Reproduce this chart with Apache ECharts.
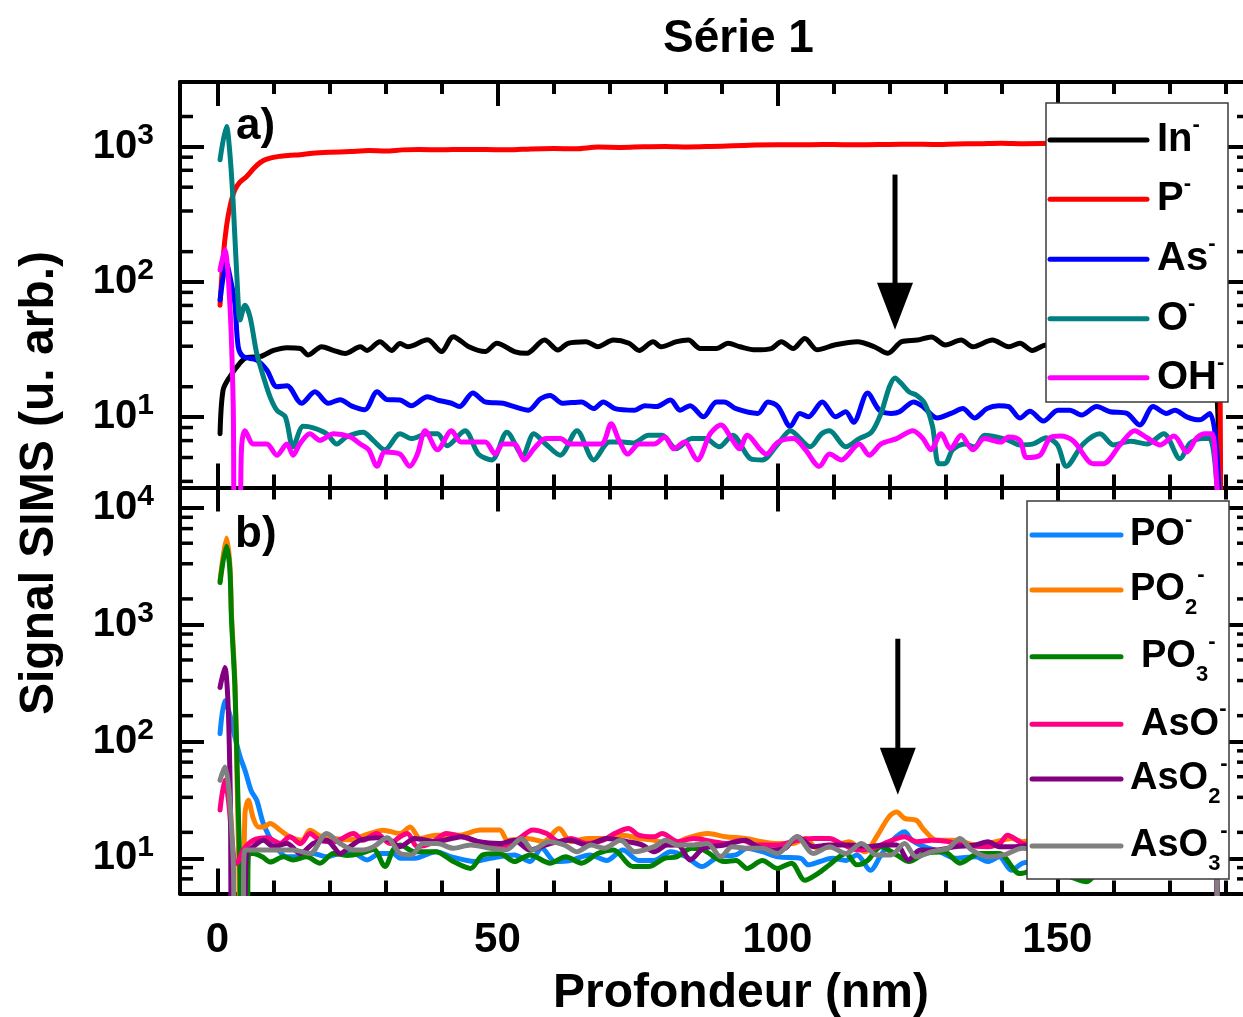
<!DOCTYPE html>
<html>
<head>
<meta charset="utf-8">
<title>Série 1</title>
<script src="https://cdn.jsdelivr.net/npm/echarts@6/dist/echarts.min.js"></script>
<style>
  html, body { margin: 0; padding: 0; background: #fff; }
  #chart { width: 1243px; height: 1017px; }
</style>
</head>
<body>
<div id="chart"></div>
<script>
// ---------- Depth axis ----------
const depthRange = [-6.7, 184.4];
const depthMajorTicks = [0, 50, 100, 150];
const depthMinorTicks = [10, 20, 30, 40, 60, 70, 80, 90, 110, 120, 130, 140, 160, 170, 180];

// ---------- Signal axes (log) ----------
const rangeA = [3, 3000];
const rangeB = [5, 15000];
const minorTicksA = [3.33, 5, 6.67, 8.33, 16.7, 33.3, 50, 66.7, 83.3, 166.7, 333.3, 500, 666.7, 833.3, 1666.7];
const minorTicksB = [6.67, 8.33, 16.7, 33.3, 50, 66.7, 83.3, 166.7, 333.3, 500, 666.7, 833.3,
                     1666.7, 3333.3, 5000, 6666.7, 8333.3];

// ---------- Panel a) profiles: [depth (nm), signal] ----------
const sigIn = [[0.45,7.5],[1.0,15.8],[2.2,19.8],[4,25],[5.2,27.5],[7.6,27.9],[10,31],[12.4,32.5],[14.8,32],
  [16.2,28.7],[18.6,33],[20.7,31],[22.8,29.4],[25.5,33],[26.7,31],[29,36],[31.1,31],[32.6,34.8],[34,33],
  [37.5,37.1],[40,30.4],[42.1,39.2],[44.9,33],[47.8,30.4],[49.9,35],[53,30.4],[55.2,29.5],[58.4,37],
  [60.8,31.2],[62.6,35],[65.8,36],[67.9,33],[70.7,37],[73.5,35],[75.3,31],[77.8,36],[79.2,33],[82,36],
  [84.1,37],[86.2,32],[89.1,32],[91.2,35],[93.3,33],[96.1,31.3],[98.9,32],[100.7,36],[102.8,32],[104.9,38],
  [107.1,31.3],[110.2,34],[114.3,36],[117.3,33],[119.7,29.5],[122.2,36],[125,37],[127.5,39],[130,34],
  [132.8,37],[134.9,33],[138.4,37],[141.3,33],[143.3,35],[145.5,31],[148,34],[151,32],[154,35],[157,33],
  [160,36],[163,32],[166,35],[169,33],[172,35],[175,32],[177.5,30],[178.6,12],[179.2,1]];

const sigP = [[0.45,67],[1.0,150],[1.6,256],[2.3,370],[3.1,478],[4,545],[5.2,600],[6.5,690],[7.6,760],
  [8.8,807],[11,845],[13,860],[14.7,868],[17,890],[20,905],[23.7,918],[27,932],[30,925],[33,944],[36,950],
  [40,945],[44,952],[48,950],[52,944],[56,960],[60,965],[64,962],[68,990],[72,985],[76,995],[80,1000],
  [84,992],[88,1000],[92,1012],[96,1025],[100,1030],[104,1028],[108,1035],[112,1030],[116,1032],[120,1036],
  [124,1040],[128,1035],[132,1045],[136,1050],[140,1059],[144,1050],[150,1055],[160,1060],[170,1055],
  [177.5,1050],[178.6,500],[179.2,1]];

const sigAs = [[0.45,73],[1.6,137],[2.4,100],[3.1,69],[3.7,33],[4.6,27.9],[7,26.3],[8.8,22.2],[10.6,16.7],
  [12.4,17],[15,12.6],[17.4,15.3],[19.8,12.6],[21.9,13.4],[24,12],[26.3,11.3],[28.5,15.3],[30.3,13.4],
  [32.6,13.3],[34.6,12.1],[37.5,14.1],[39.3,13.3],[41.8,12.6],[43.2,11.9],[45.6,15],[47.8,12.9],[51,12.6],
  [53,11.9],[55.5,11.2],[57.7,13.6],[59.4,14.4],[61.6,12.6],[65,12.9],[67.2,11.5],[68.9,12.9],[71,11.5],
  [74.5,11.2],[76.3,12.1],[78.4,11.9],[80.9,13.3],[82.6,11.2],[84.4,12.1],[86.8,10],[89.1,12.9],[90.5,12.9],
  [92.6,11.5],[96.5,10.6],[98.3,12.9],[100.1,11.9],[102.3,8.5],[104,10.6],[105.5,10],[108,12.9],[110.4,10],
  [112.2,10.9],[113.6,9.1],[116.1,15],[118.2,11.2],[120.3,10.6],[121.8,10.9],[124.3,12.9],[126,11.9],
  [128.5,9.8],[131,10.6],[133.1,11.5],[135.2,9.8],[137.4,11.5],[139.5,12.1],[141.3,11.9],[143.3,9.8],
  [145.1,11],[147.5,9.3],[150.1,11.2],[152.2,11.2],[154.3,10.3],[157,11.9],[159.4,10.9],[162.4,10.6],
  [164.7,8.7],[167.1,11.9],[169.5,10.6],[171,11.2],[173.1,10],[175.4,9.5],[177.2,10.6],[178.4,6],[179.2,1]];

const sigO = [[0.45,797],[1.6,1406],[2.2,900],[2.8,381],[3.7,69],[4,52],[4.9,67],[5.8,55],[7,29.5],
  [8.2,19.8],[9.4,14],[10.6,11.2],[12.1,10],[13.5,6],[15.3,8.5],[17.1,8.3],[19.5,7.5],[21.3,6.3],[23,7.1],
  [26,7.7],[27.8,6.7],[29.9,5.7],[32.6,7.5],[34.6,6.9],[37.5,7.5],[39.3,7.5],[41,6.1],[44.2,7.9],[46.6,5.3],
  [49,4.8],[51.7,7.7],[54.5,5.2],[56.5,7.5],[58.6,6.3],[61.2,5.2],[64.2,7.9],[67.2,4.8],[70,6.5],[72.3,6.5],
  [74.2,6.4],[77,7.3],[79.4,7.3],[81.9,5.8],[84.7,6.9],[87.1,6.9],[89.6,6],[92,7.3],[95.2,4.9],[97.3,4.8],
  [100.1,6.3],[102.3,7.9],[105.8,6],[107.9,7.5],[109.3,7.9],[112.2,6],[114.6,6.9],[116.8,7.7],[118.5,10.6],
  [120,16.7],[121,19.4],[122.1,17.7],[123.5,15.3],[124.9,14.4],[126.3,12.6],[127.7,8.5],[128.8,4.5],
  [129.9,4.5],[131.3,5.7],[133.4,6.3],[135.2,6],[137,7.3],[139.1,7.1],[141.3,6.7],[143.3,6.2],[145.7,6.3],
  [148,7],[150,6.2],[151.6,4.3],[154.6,6.3],[157.6,7.5],[160,6.2],[163,6.6],[166,6.3],[169,7.5],[171.9,4.9],
  [173.7,6.4],[176,6.9],[177.2,6.9],[178.4,3.5],[179,1]];

const sigOH = [[0.45,122],[1.3,172],[2.2,69],[2.8,12.6],[3.1,1.5],[3.9,1.5],[4.3,6],[4.9,7.9],[6.4,6.3],
  [8.8,6.3],[10.6,5.2],[12.4,6.3],[13.5,5.2],[14.7,6.3],[16.5,7.5],[18.3,6.7],[20.7,7.5],[23.7,7.1],
  [25.5,6.3],[27,5.7],[28.5,4.3],[29.9,5.5],[32.6,5.3],[34.3,4.3],[35.7,5.3],[37.1,7.9],[39.3,5.7],
  [41.8,7.9],[43.5,6.5],[47.8,6.5],[49.6,5.3],[51,6.3],[53,6.3],[54.8,4.8],[56.5,5.8],[58.6,6.9],[61.2,6.9],
  [63,6.3],[68.5,6.3],[70.3,8.9],[71.7,6.7],[73.3,5.3],[75.3,6.3],[78,6.3],[79.9,7.1],[81.5,5.8],[83.4,6.5],
  [85.7,4.8],[88,7.5],[89.9,8.7],[92,6.7],[93.2,5.8],[94.6,7.3],[97,5.7],[98,5.3],[100.1,6.5],[102.9,6.9],
  [105,5.7],[107.5,4.3],[109.3,5.3],[111.4,4.8],[114.6,6.3],[116.4,5.2],[118.5,6.3],[121.3,6.9],[124.2,7.9],
  [126,6.9],[127.4,5.7],[129.2,7.5],[130.9,5.8],[132.8,7.3],[134.9,5.7],[137,6.9],[139.9,6.5],[141.3,7.1],
  [143.3,6.7],[144.5,5],[146.9,5.2],[148.7,7],[150.5,7.2],[152.9,6.6],[156.4,4.5],[158.2,4.5],[161.2,6.2],
  [163.8,7.9],[166,7],[168.4,6.2],[170.8,7.2],[173.1,5.5],[174.9,7],[176.4,7.5],[177.6,7.5],[178.4,3.5],[179,1]];

// ---------- Panel b) profiles ----------
const sigPO = [[0.45,117],[1.3,224],[2.2,170],[3,115],[4,75],[5,55],[6,38],[7,31.5],[8.2,19.8],[10,13.4],
  [12.4,10.3],[14.8,10.3],[17.1,11],[19.5,10.3],[21.9,11],[24.3,11],[26.7,9.7],[29,11],[31.4,11],[32.6,10],
  [35.2,10],[39,11.4],[41.8,10.3],[45.9,9.4],[48.7,10],[53,10.7],[55.8,9.4],[57.9,12.2],[60.3,9.4],[63,9.6],
  [66.5,10.7],[69.5,9.6],[72.4,11.8],[75.2,9.6],[78,9.6],[80.9,11.4],[83.7,10.3],[86.5,8.5],[89.4,10.3],
  [92.6,10.7],[94.6,12.2],[97.3,11.4],[100.1,10.3],[104.2,10],[105.5,8.8],[107.6,9.4],[109.8,10],[112.2,9.6],
  [114.2,10.7],[116.6,7.9],[118.5,10.7],[120.3,13.9],[122.7,16.9],[124,14.3],[126.2,12.6],[129,11.4],
  [131.9,10],[135.4,10.3],[137.6,9.4],[139.6,10.3],[141.8,7.9],[143.8,9.1],[147,9.5],[151,10],[155,9.2],
  [159,10.4],[163,9.8],[167,10.5],[171,9.6],[175,10.2],[177.8,9.8],[178.6,4],[179.2,1]];

const sigPO2 = [[0.45,2371],[1.6,5546],[2.2,3290],[2.5,1230],[3.1,333],[3.5,46],[3.8,9],[4.1,2],[4.5,2],
  [4.9,24.2],[5.5,31.4],[6.4,22],[7.3,18.6],[8.2,18.6],[9.4,19.9],[11.2,17.4],[12.9,15.3],[15.1,14.3],
  [16.5,17.4],[18.3,15.6],[20.7,14.8],[23.7,14.4],[26.7,16],[29.6,17.4],[32.6,16.3],[34.4,18.6],[36.2,14.8],
  [39,15.8],[43.3,15.8],[46.9,17.5],[50.4,17.5],[51.8,14.3],[55.4,14.8],[58.2,13.9],[61,18],[63.1,13.9],
  [66,14.8],[69.5,14.8],[72.4,15.8],[75.2,14.8],[78,14.3],[80.9,13],[83.7,14.8],[87.6,16.3],[90.8,15.3],
  [94.3,14.8],[97.2,13.9],[100,13.4],[102.8,13.4],[105,14.8],[107.1,12.2],[109.9,12.6],[112.8,13.9],
  [115.6,11.4],[117.7,15.3],[119.9,22.6],[121.3,25],[122.7,22],[124.8,21.2],[126.2,17.5],[128.4,14.3],
  [131.9,14.3],[135.4,13],[139,13.9],[141.8,14.8],[143.8,13.9],[147,14.5],[151,13.5],[155,14.8],[159,13.6],
  [163,14.2],[167,13.3],[171,14.6],[175,13.8],[177.8,13.5],[178.6,4],[179.2,1]];

const sigPO3 = [[0.45,2300],[1.6,4710],[2.2,3000],[2.5,1100],[3.1,300],[3.6,40],[4.0,8],[4.3,2],[5.2,2],
  [5.6,11],[6.4,11],[8,10.3],[9.4,9.3],[11.8,10.3],[13.5,9.7],[15.9,10.3],[18.3,9.1],[20.7,11],[23.1,10.6],
  [25.5,11],[27.9,11.9],[29.9,8.5],[31.4,11.9],[32.6,13],[35.2,11.4],[37.3,11.4],[39,11.4],[42.1,9.4],
  [45.2,8.2],[47.4,10.7],[50.4,11],[53,9.4],[55.8,10.7],[59.4,9.1],[62.2,10.3],[65,9.1],[67.9,11],[70.7,11.8],
  [74.2,8.5],[77,8.5],[79.8,10],[82,10.3],[84.7,12.2],[86.8,11.8],[90.5,9.4],[92.6,9.6],[94.6,8.2],[97.3,9.6],
  [100,8.2],[102.5,9.1],[104.9,6.5],[107.2,7.4],[109.3,8.8],[112.2,11],[114.2,8.8],[116.1,9.6],[118.5,12.6],
  [121.3,10.7],[123.5,9.4],[126.3,11],[129.8,11.4],[132.6,9.1],[136,11],[139.6,11],[143.3,7.4],[146,7.9],
  [149,7.5],[152,7],[155.2,6.3],[158,8.5],[162,9.5],[166,8.8],[170,10],[174,9.2],[177.8,9.6],[178.6,4],[179.2,1]];

const sigAsO = [[0.45,25.9],[1.3,46.6],[2.0,30],[2.6,14],[3.2,9],[3.8,9.5],[4.6,11.8],[6.4,14.3],[8.8,15],
  [11.2,13.4],[12.9,15.3],[14.8,13.4],[16.5,16.3],[18.3,14.3],[20.7,13.8],[24.3,16.3],[26,14.3],[28.4,16.3],
  [30.8,13.4],[32.6,15.3],[33.9,16.3],[35.7,12.6],[38.1,13.4],[40.9,16.3],[43.7,15.3],[46.6,13.9],[51.2,12.6],
  [53.9,14.8],[56.3,17.5],[58.8,16.3],[61,13.9],[63.1,14.8],[66,13.4],[68.9,14.3],[70.9,16.3],[73.4,18],
  [75.2,15.8],[78,15.3],[79.4,16.3],[82.2,13.9],[85,14.8],[88.5,13.9],[90.8,13.4],[93.6,14.3],[96.4,13],
  [100,13],[103.5,14.3],[106.4,14.8],[109.3,14.8],[111.4,13.4],[114.2,11.8],[117,12.2],[119.9,13.9],
  [122.7,15.3],[124.8,13.9],[127.6,14.3],[130.5,13.9],[133.3,13],[137.5,12.6],[139.7,13.4],[141.1,15.8],
  [143.8,13.4],[147,13],[151,14],[155,13.2],[159,14.5],[163,13.6],[167,14.1],[171,13],[175,13.8],
  [177.8,13.5],[178.6,4],[179.2,1]];

const sigAsO2 = [[0.45,291],[1.3,431],[1.9,200],[2.3,30],[2.6,2],[4.6,2],[5.2,11],[6.4,12.6],[8.2,14.3],
  [10,12.6],[12.4,13.4],[14.8,11],[17.1,13.4],[19.5,14.3],[20.7,12.6],[21.9,11],[23.7,12.6],[25.5,14.3],
  [28.4,15],[30.8,14.3],[32.6,12.6],[35.2,14.8],[39,13.9],[41.8,14.8],[43.7,15.3],[46.6,13.9],[50.4,13.4],
  [53,14.3],[55.8,11.8],[59.4,13.4],[63,14.3],[66,13],[69.5,14.8],[73.2,13.9],[75.9,13],[78,11.4],[80.3,13],
  [82.2,13],[84.4,9.7],[86.8,12.2],[90.5,13],[94.3,14.3],[96.4,12.6],[99.2,11.8],[101.4,12.2],[103.5,15.3],
  [106.4,12.6],[109.3,13],[112.7,13],[116.4,12.6],[119.1,13],[121.3,13],[123.4,9.7],[125.5,11.8],[128.3,11.8],
  [131.9,12.6],[135.4,13],[137.6,13.9],[139.6,12.6],[142.5,12.6],[146,13],[150,12.4],[154,13.2],[158,12.6],
  [162,13.4],[166,12.2],[170,13],[174,12.6],[177.8,12.8],[178.6,4],[179.2,1]];

const sigAsO3 = [[0.45,46.6],[1.3,60.5],[2.0,40],[2.8,10],[3.2,2],[4.4,2],[4.9,11.8],[6.4,11.8],[8.8,11.8],
  [11.8,11.8],[13.5,11.8],[16.5,11],[19.5,16.3],[21.9,13.4],[24.3,11.8],[26,11.8],[27.9,12.6],[30.3,15],
  [32.6,11],[34.6,10.7],[36.7,13.4],[39.3,13.4],[42.1,12.2],[45.2,13],[48.7,12.2],[51.5,11.8],[54.3,14.8],
  [56.3,11.8],[59.2,13.9],[62,13],[64.2,11.4],[66.7,13],[69,12.2],[72,14.3],[74.5,11.4],[78,12.6],[80,14.3],
  [82.2,13],[84.7,13],[87.5,13.4],[89.9,10.3],[91.9,12.6],[94.6,12.2],[97.3,12.2],[100,11],[103.5,15.3],
  [106.4,11],[109.3,12.6],[112.2,11],[115,13.4],[117.7,10.7],[120.3,10.7],[122.7,13.4],[124.8,10.3],
  [127.6,11.4],[130.5,12.2],[132.6,14.8],[134.7,11.8],[137.6,10.3],[140.4,10.7],[143.8,12.2],[147,11.5],
  [151,12.4],[155,11.2],[159,12.6],[163,11.4],[167,12.3],[171,11.6],[175,12.2],[177.8,11.8],[178.6,4],[179.2,1]];

// ---------- Arrow annotations: [depth, start signal, tip signal] ----------
const arrowA = [121, 620, 44];
const arrowB = [121.5, 760, 35];

// ---------- Series description ----------
// label parts: [main text, subscript, superscript]
const seriesA = [
  { label: ['In', '', '-'],  color: '#000000', data: sigIn },
  { label: ['P', '', '-'],   color: '#ff0000', data: sigP },
  { label: ['As', '', '-'],  color: '#0000ff', data: sigAs },
  { label: ['O', '', '-'],   color: '#008080', data: sigO },
  { label: ['OH', '', '-'],  color: '#ff00ff', data: sigOH }
];
const seriesB = [
  { label: ['PO', '', '-'],  color: '#0a84ff', data: sigPO },
  { label: ['PO', '2', '-'], color: '#ff8000', data: sigPO2 },
  { label: ['PO', '3', '-'], color: '#008000', data: sigPO3 },
  { label: ['AsO', '', '-'], color: '#ff0080', data: sigAsO },
  { label: ['AsO', '2', '-'], color: '#800080', data: sigAsO2 },
  { label: ['AsO', '3', '-'], color: '#808080', data: sigAsO3 }
];

const FONT = '"Liberation Sans", Arial, Helvetica, sans-serif';
const LINE_W = 5;
const FRAME_W = 4;

// grid boxes (px)
const GRID_LEFT = 180, GRID_WIDTH = 1070;
const GRID_A = { top: 82, height: 405.5 };
const GRID_B = { top: 487.5, height: 406 };

function powerLabel(v) {
  const l = Math.log10(v);
  const e = Math.round(l);
  if (Math.abs(l - e) > 1e-6) return '';
  return '{b|10}{e|' + e + '}';
}

function depthAxis(gridIndex, position, ticks, len, withLine, withLabels) {
  return {
    type: 'value', gridIndex, position,
    min: depthRange[0], max: depthRange[1],
    axisLine: { show: withLine, onZero: false, lineStyle: { color: '#000', width: FRAME_W } },
    axisTick: { show: true, inside: true, length: len, customValues: ticks,
                lineStyle: { color: '#000', width: 4 } },
    axisLabel: withLabels ? {
      show: true, customValues: depthMajorTicks, margin: 26,
      fontFamily: FONT, fontSize: 42, fontWeight: 'bold', color: '#000'
    } : { show: false },
    splitLine: { show: false },
    minorTick: { show: false }
  };
}

function signalAxis(gridIndex, range, position, withLabels) {
  return {
    type: 'log', logBase: 10, gridIndex, position,
    min: range[0], max: range[1],
    axisLine: { show: true, onZero: false, lineStyle: { color: '#000', width: FRAME_W } },
    axisTick: { show: true, inside: true, length: 24, lineStyle: { color: '#000', width: 4 } },
    axisLabel: withLabels ? {
      show: true, margin: 26, formatter: powerLabel,
      rich: {
        b: { fontFamily: FONT, fontSize: 40, fontWeight: 'bold', color: '#000', lineHeight: 40 },
        e: { fontFamily: FONT, fontSize: 30, fontWeight: 'bold', color: '#000', lineHeight: 40,
             padding: [0, 0, 22, 0] }
      }
    } : { show: false },
    splitLine: { show: false },
    minorTick: { show: false }
  };
}

// short inward minor ticks on both vertical edges of a grid
function minorTickRender(params, api) {
  const cs = params.coordSys;
  const y = api.coord([0, api.value(1)])[1];
  const st = { stroke: '#000', lineWidth: 3.5 };
  return {
    type: 'group',
    children: [
      { type: 'line', shape: { x1: cs.x, y1: y, x2: cs.x + 13, y2: y }, style: st },
      { type: 'line', shape: { x1: cs.x + cs.width - 13, y1: y, x2: cs.x + cs.width, y2: y }, style: st }
    ]
  };
}

function arrowRender(params, api) {
  const top = api.coord([api.value(0), api.value(1)]);
  const tip = api.coord([api.value(0), api.value(2)]);
  const headH = 47, headW = 36;
  return {
    type: 'group',
    children: [
      { type: 'line', shape: { x1: top[0], y1: top[1], x2: tip[0], y2: tip[1] - headH + 4 },
        style: { stroke: '#000', lineWidth: 5 } },
      { type: 'polygon',
        shape: { points: [[tip[0] - headW / 2, tip[1] - headH], [tip[0] + headW / 2, tip[1] - headH], [tip[0], tip[1]]] },
        style: { fill: '#000' } }
    ]
  };
}

function lineSeries(s, xIdx, yIdx) {
  return {
    type: 'line', name: s.label.join(''), xAxisIndex: xIdx, yAxisIndex: yIdx,
    data: s.data, showSymbol: false, symbol: 'none', clip: true,
    smooth: 0.3,
    lineStyle: { color: s.color, width: LINE_W, join: 'round', cap: 'round' },
    itemStyle: { color: s.color },
    emphasis: { disabled: true }
  };
}

// legend boxes
function legendGraphic(list, box, lineX, ys, textXs, mainSize) {
  const children = [{
    type: 'rect', shape: { x: box.x, y: box.y, width: box.w, height: box.h },
    style: { fill: '#fff', stroke: '#3a3a3a', lineWidth: 1.5 }, z: 100
  }];
  list.forEach((s, i) => {
    const y = ys[i];
    children.push({
      type: 'line', shape: { x1: lineX[0], y1: y, x2: lineX[1], y2: y },
      style: { stroke: s.color, lineWidth: 5, lineCap: 'round' }, z: 101
    });
    const [m, sub, sup] = s.label;
    let txt = '{m|' + m + '}';
    if (sub) txt += '{s|' + sub + '}';
    if (sup) txt += '{u|' + sup + '}';
    children.push({
      type: 'text', x: textXs[i], y: y, z: 101,
      style: {
        text: txt, align: 'left', verticalAlign: 'middle',
        rich: {
          m: { fontFamily: FONT, fontSize: mainSize, fontWeight: 'bold', fill: '#000', lineHeight: 40 },
          s: { fontFamily: FONT, fontSize: 22, fontWeight: 'bold', fill: '#000', lineHeight: 40,
               padding: [36, 0, 0, 0] },
          u: { fontFamily: FONT, fontSize: 22, fontWeight: 'bold', fill: '#000', lineHeight: 40,
               padding: [0, 0, 30, 0] }
        }
      }
    });
  });
  return { type: 'group', children };
}

const chart = echarts.init(document.getElementById('chart'), null, { renderer: 'canvas' });

const option = {
  animation: false,
  backgroundColor: '#fff',
  title: {
    text: 'Série 1', left: 663, top: 16, padding: 0,
    textStyle: { fontFamily: FONT, fontSize: 46, fontWeight: 'bold', color: '#000' }
  },
  grid: [
    { left: GRID_LEFT, top: GRID_A.top, width: GRID_WIDTH, height: GRID_A.height, outerBoundsMode: 'none', containLabel: false },
    { left: GRID_LEFT, top: GRID_B.top, width: GRID_WIDTH, height: GRID_B.height, outerBoundsMode: 'none', containLabel: false }
  ],
  xAxis: [
    depthAxis(0, 'bottom', depthMajorTicks, 24, true, false),
    depthAxis(0, 'bottom', depthMinorTicks, 13, false, false),
    depthAxis(0, 'top', depthMajorTicks, 24, true, false),
    depthAxis(0, 'top', depthMinorTicks, 12, false, false),
    depthAxis(1, 'bottom', depthMajorTicks, 25, true, true),
    depthAxis(1, 'bottom', depthMinorTicks, 13, false, false),
    depthAxis(1, 'top', depthMajorTicks, 24, true, false),
    depthAxis(1, 'top', depthMinorTicks, 12, false, false)
  ],
  yAxis: [
    signalAxis(0, rangeA, 'left', true),
    signalAxis(0, rangeA, 'right', false),
    signalAxis(1, rangeB, 'left', true),
    signalAxis(1, rangeB, 'right', false)
  ],
  series: [
    { type: 'custom', xAxisIndex: 0, yAxisIndex: 0, silent: true, clip: false, z: 1,
      data: minorTicksA.map(v => [0, v]), encode: { x: 0, y: 1 }, renderItem: minorTickRender },
    { type: 'custom', xAxisIndex: 4, yAxisIndex: 2, silent: true, clip: false, z: 1,
      data: minorTicksB.map(v => [0, v]), encode: { x: 0, y: 1 }, renderItem: minorTickRender },
    ...seriesA.map(s => lineSeries(s, 0, 0)),
    ...seriesB.map(s => lineSeries(s, 4, 2)),
    { type: 'custom', xAxisIndex: 0, yAxisIndex: 0, silent: true, clip: false, z: 10,
      data: [arrowA], encode: { x: 0, y: [1, 2] }, renderItem: arrowRender },
    { type: 'custom', xAxisIndex: 4, yAxisIndex: 2, silent: true, clip: false, z: 10,
      data: [arrowB], encode: { x: 0, y: [1, 2] }, renderItem: arrowRender }
  ],
  graphic: [
    { type: 'text', x: 40, y: 483, rotation: Math.PI / 2, z: 100,
      style: { text: 'Signal SIMS (u. arb.)', align: 'center', verticalAlign: 'middle',
               fontFamily: FONT, fontSize: 48, fontWeight: 'bold', fill: '#000' } },
    { type: 'text', x: 741, y: 994, z: 100,
      style: { text: 'Profondeur (nm)', align: 'center', verticalAlign: 'middle',
               fontFamily: FONT, fontSize: 48, fontWeight: 'bold', fill: '#000' } },
    { type: 'text', x: 236, y: 127, z: 100,
      style: { text: 'a)', align: 'left', verticalAlign: 'middle',
               fontFamily: FONT, fontSize: 44, fontWeight: 'bold', fill: '#000' } },
    { type: 'text', x: 235, y: 535, z: 100,
      style: { text: 'b)', align: 'left', verticalAlign: 'middle',
               fontFamily: FONT, fontSize: 44, fontWeight: 'bold', fill: '#000' } },
    legendGraphic(seriesA, { x: 1046, y: 103, w: 182, h: 299 }, [1050, 1147],
      [140, 199.3, 259.3, 318.7, 377.7], [1157, 1157, 1157, 1157, 1157], 40),
    legendGraphic(seriesB, { x: 1027, y: 501, w: 202, h: 378 }, [1032, 1121],
      [535, 590, 656.7, 724.3, 779, 846], [1130, 1130, 1141, 1141, 1130, 1130], 38)
  ]
};

chart.setOption(option);
</script>
</body>
</html>
